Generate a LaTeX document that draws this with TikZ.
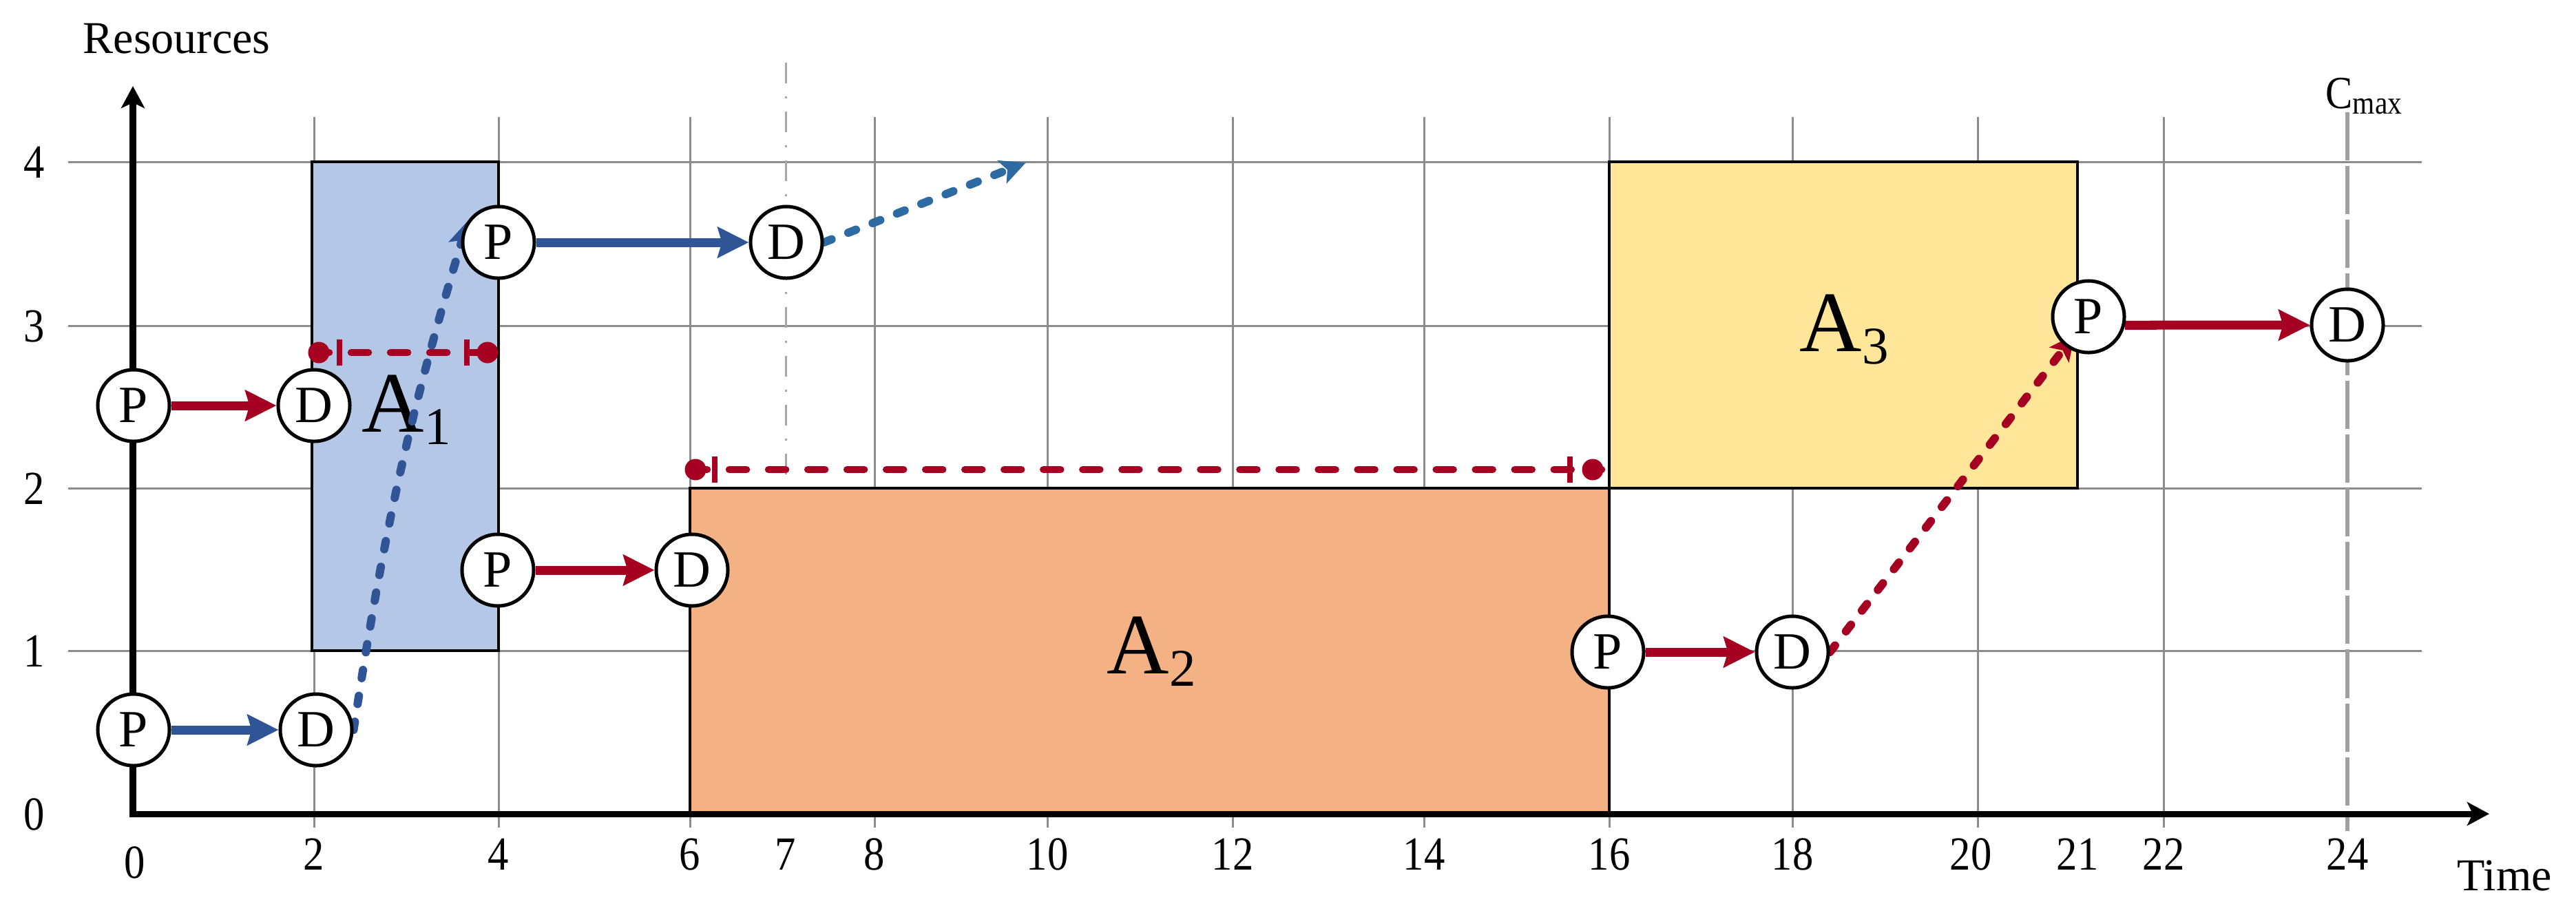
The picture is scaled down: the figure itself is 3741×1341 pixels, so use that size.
\documentclass[tikz,border=0pt]{standalone}
\usepackage{fontspec}
\setmainfont{Liberation Serif}
\usetikzlibrary{arrows.meta}
\definecolor{myred}{HTML}{A50021}
\definecolor{myblue}{HTML}{2F5597}
\definecolor{myblueb}{HTML}{2E6BA3}
\definecolor{gridc}{HTML}{8C8C8C}
\definecolor{lightg}{HTML}{A6A6A6}
\definecolor{cmaxc}{HTML}{A0A0A0}
\definecolor{aone}{HTML}{B4C7E7}
\definecolor{atwo}{HTML}{F4B183}
\definecolor{athree}{HTML}{FFE699}
\pgfdeclarelayer{bg}
\pgfdeclarelayer{mid}
\pgfsetlayers{bg,mid,main}
\newcommand\Asub[1]{A\raisebox{-0.18cm}{\fontsize{21.9}{24}\selectfont #1}}
\newcommand\tkl[1]{\scalebox{0.88}[1]{#1}}
\tikzset{
  gridst/.style={gridc, line width=0.03cm},
  boxst/.style={draw=black, line width=0.045cm},
  pd/.style={circle, draw=black, line width=0.05cm, fill=white, minimum size=1.04cm, inner sep=0pt, font=\fontsize{21.6}{24}\selectfont},
  solidarrow/.style={line width=0.13cm, -{Stealth[length=0.45cm,width=0.44cm,inset=0.06cm]}},
  dotarrow/.style={line width=0.12cm, line cap=round, dash pattern=on 0.12cm off 0.26cm, -{Stealth[length=0.37cm,width=0.35cm,inset=0.08cm]}},
  dimline/.style={myred, line width=0.105cm, line cap=round, dash pattern=on 0.25cm off 0.32cm},
  dimbar/.style={myred, line width=0.085cm},
  tick/.style={inner sep=0pt, anchor=base, font=\fontsize{19.6}{22}\selectfont},
  alab/.style={inner sep=0pt, anchor=base west, font=\fontsize{35.6}{40}\selectfont},
  axlab/.style={inner sep=0pt, anchor=base west, font=\fontsize{18.8}{22}\selectfont},
  axisst/.style={black, line width=0.09cm, line join=miter,
     {Stealth[length=0.32cm,width=0.34cm,inset=0.08cm]}-{Stealth[length=0.32cm,width=0.34cm,inset=0.08cm]}}
}
\begin{document}
\begin{tikzpicture}[x=0.01cm,y=-0.01cm]
\useasboundingbox (0,0) rectangle (3741,1341);
% ---------- grid, reference lines, boxes ----------
\begin{pgfonlayer}{bg}
\foreach \yy in {945,709,473,235} \draw[gridst] (99,\yy) -- (3517,\yy);
\foreach \xx in {456,724,1002,1270,1521,1790,2068,2337,2603,2872,3142} \draw[gridst] (\xx,170) -- (\xx,1202);
\draw[lightg, line width=0.03cm, dash pattern=on 0.3cm off 0.19cm on 0.03cm off 0.19cm] (1141,91) -- (1141,1205);
\draw[cmaxc, line width=0.06cm, dash pattern=on 0.7cm off 0.08cm] (3409,163) -- (3409,1207);
\draw[boxst, fill=aone] (453,235) rectangle (724,945);
\draw[boxst, fill=atwo] (1002,709) rectangle (2337,1182);
\draw[boxst, fill=athree] (2337,235) rectangle (3017,709);
\node[alab] (la1) at (525,627) {\Asub{1}};
\node[alab] (la2) at (1607,978) {\Asub{2}};
\node[alab] (la3) at (2613,510) {\Asub{3}};
\end{pgfonlayer}
% ---------- labels ----------
\node[axlab] (res) at (120,77) {Resources};
\node[axlab] (time) at (3568,1293) {Time};
\node[inner sep=0pt, anchor=base west, font=\fontsize{19}{22}\selectfont] (cmax) at (3377,157) {\scalebox{0.88}[1]{C\raisebox{-0.08cm}{\fontsize{13.4}{15}\selectfont max}}};
\foreach \xx/\lab in {456/2,724/4,1002/6,1141/7,1270/8,1521/10,1790/12,2068/14,2337/16,2603/18,2862/20,3017/21,3142/22,3409/24}
  \node[tick] (tx\lab) at (\xx,1263) {\tkl{\lab}};
\node[tick] (tx0) at (196,1275) {\tkl{0}};
\foreach \yy/\lab in {1205/0,968/1,732/2,496/3,258/4}
  \node[tick] (ty\lab) at (50,\yy) {\tkl{\lab}};
% ---------- nodes ----------
\node[pd] (P1) at (194,589) {P};
\node[pd] (D1) at (456,589) {D};
\node[pd] (P2) at (194,1060) {P};
\node[pd] (D2) at (459,1060) {D};
\node[pd] (P3) at (724,352) {P};
\node[pd] (D3) at (1142,352) {D};
\node[pd] (P4) at (723,828) {P};
\node[pd] (D4) at (1005,828) {D};
\node[pd] (P5) at (2335,947) {P};
\node[pd] (D5) at (2603,947) {D};
\node[pd] (P6) at (3033,460) {P};
\node[pd] (D6) at (3409,472) {D};
\coordinate (E1) at (1490,236);
\coordinate (m1s) at (453,512);
\coordinate (m1e) at (723,512);
\coordinate (m2s) at (1002,682);
\coordinate (m2e) at (2326,682);
% ---------- connectors ----------
\begin{pgfonlayer}{mid}
\draw[axisst] (193,125) -- (193,1182) -- (3615,1182);
\draw[dimline] (m1s) -- (m1e);
\fill[myred] (463,512) circle (0.155cm);
\fill[myred] (708,512) circle (0.155cm);
\draw[dimbar] (493,493) -- (493,531);
\draw[dimbar] (678,493) -- (678,531);
\draw[dimline] (m2s) -- (m2e);
\fill[myred] (1010,682) circle (0.155cm);
\fill[myred] (2313,682) circle (0.155cm);
\draw[dimbar] (1038,663) -- (1038,701);
\draw[dimbar] (2280,663) -- (2280,701);
\draw[solidarrow, myred] (P1) -- (D1);
\draw[solidarrow, myblue] (P2) -- (D2);
\draw[solidarrow, myblue] (P3) -- (D3);
\draw[solidarrow, myred] (P4) -- (D4);
\draw[solidarrow, myred] (P5) -- (D5);
\draw[solidarrow, myred] (P6.-13) -- (D6);
\draw[dotarrow, myblue] (D2.east) to[bend left=4] (P3.145);
\draw[dotarrow, myblueb] (D3.east) -- (E1);
\draw[dotarrow, myred, shorten >=-0.22cm] (D5.east) -- (P6);
\end{pgfonlayer}
\end{tikzpicture}
\end{document}
